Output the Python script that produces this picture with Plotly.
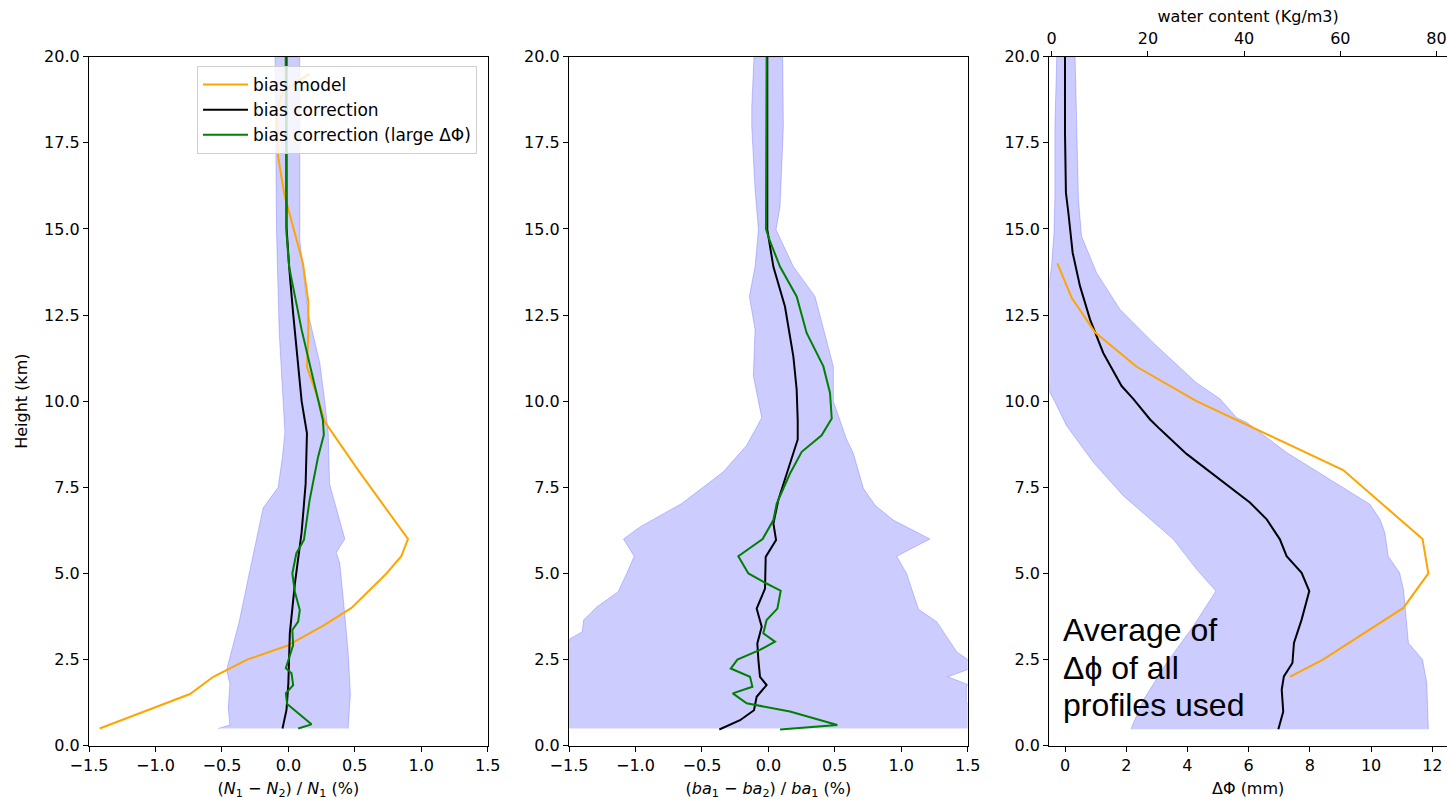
import plotly.graph_objects as go

# ---------------- Panel 1 : (N1-N2)/N1 (%) ----------------
p1_model_x = [-1.42, -0.74, -0.565, -0.31, -0.01, 0.27, 0.475, 0.738, 0.85, 0.90, 0.525, 0.274, 0.23, 0.14, 0.15, 0.15, 0.11, 0.04, -0.03, -0.077, -0.089, -0.04, 0.036, 0.16]
p1_model_y = [0.5, 1.5, 2.0, 2.5, 2.9, 3.5, 4.0, 5.0, 5.5, 6.0, 8.0, 9.4, 10.0, 11.0, 12.0, 12.9, 14.0, 15.0, 16.0, 17.1, 18.4, 19.0, 19.2, 19.5]

p1_corr_x = [-0.044, -0.014, 0.0, 0.011, 0.049, 0.10, 0.13, 0.14, 0.117, 0.10, 0.036, 0.006, -0.014, -0.014]
p1_corr_y = [0.5, 1.04, 1.8, 3.26, 4.7, 6.2, 7.6, 9.07, 9.6, 10.0, 12.55, 13.9, 15.07, 20.0]

p1_large_x = [0.074, 0.174, -0.009, -0.019, 0.036, 0.024, -0.019, 0.0, 0.036, 0.03, 0.074, 0.086, 0.049, 0.03, 0.06, 0.117, 0.16, 0.224, 0.267, 0.26, 0.186, 0.10, 0.006, -0.014, -0.02]
p1_large_y = [0.5, 0.62, 1.21, 1.52, 1.76, 2.1, 2.25, 2.49, 2.92, 3.36, 3.6, 3.94, 4.47, 5.0, 5.58, 5.97, 7.13, 8.39, 9.02, 9.45, 10.7, 12.07, 13.9, 14.88, 20.0]

p1_band_lo_x = [-0.528, -0.44, -0.452, -0.44, -0.465, -0.37, -0.30, -0.239, -0.19, -0.077, -0.044, -0.026, -0.039, -0.069, -0.089, -0.10]
p1_band_lo_y = [0.5, 0.6, 1.1, 1.8, 2.2, 3.6, 4.9, 6.0, 6.9, 7.5, 8.4, 9.1, 10.0, 12.0, 14.9, 20.0]
p1_band_hi_x = [0.45, 0.467, 0.45, 0.425, 0.387, 0.36, 0.425, 0.387, 0.31, 0.30, 0.274, 0.237, 0.149, 0.086, 0.086, 0.086]
p1_band_hi_y = [0.5, 1.5, 2.7, 3.8, 5.3, 5.6, 6.0, 6.5, 7.6, 9.1, 10.0, 11.1, 12.55, 14.7, 17.6, 20.0]

# ---------------- Panel 2 : (ba1-ba2)/ba1 (%) ----------------
p2_corr_x = [-0.369, -0.213, -0.108, -0.088, -0.013, -0.063, -0.075, -0.083, -0.05, -0.088, -0.025, -0.02, 0.058, 0.038, 0.075, 0.125, 0.183, 0.221, 0.221, 0.213, 0.188, 0.125, 0.038, 0.0, -0.008, -0.008]
p2_corr_y = [0.47, 0.74, 1.03, 1.42, 1.76, 2.0, 2.49, 2.97, 3.45, 3.98, 4.56, 5.48, 5.97, 6.45, 7.13, 7.71, 8.38, 8.89, 9.45, 10.34, 11.3, 12.75, 13.9, 14.7, 14.98, 20.0]

p2_large_x = [0.088, 0.519, 0.163, -0.163, -0.268, -0.12, -0.138, -0.283, -0.233, -0.063, 0.05, -0.038, -0.013, 0.068, 0.093, -0.025, -0.15, -0.226, -0.043, 0.038, 0.063, 0.163, 0.251, 0.401, 0.477, 0.464, 0.414, 0.288, 0.213, 0.088, 0.008, -0.018, -0.013]
p2_large_y = [0.47, 0.6, 0.99, 1.23, 1.52, 1.71, 2.0, 2.24, 2.5, 2.78, 3.02, 3.26, 3.65, 3.98, 4.5, 4.73, 5.0, 5.5, 6.0, 6.55, 7.03, 7.9, 8.53, 9.01, 9.5, 10.24, 11.01, 11.98, 13.04, 13.9, 14.69, 15.0, 20.0]

p2_band_lo_x = [-1.7, -1.6, -1.52, -1.49, -1.40, -1.39, -1.29, -1.13, -1.066, -1.01, -1.09, -0.966, -0.652, -0.339, -0.163, -0.063, -0.05, -0.113, -0.10, -0.143, -0.10, -0.075, -0.10, -0.125, -0.125, -0.108]
p2_band_lo_y = [0.5, 2.0, 2.9, 3.11, 3.31, 3.65, 4.03, 4.47, 5.0, 5.5, 6.0, 6.35, 7.03, 7.95, 8.72, 9.45, 9.52, 10.73, 12.08, 13.04, 13.91, 14.98, 16.14, 17.97, 18.55, 20.0]
p2_band_hi_x = [1.56, 1.53, 1.49, 1.49, 1.50, 1.35, 1.53, 1.50, 1.417, 1.267, 1.13, 1.04, 0.966, 1.216, 0.94, 0.803, 0.715, 0.64, 0.589, 0.489, 0.489, 0.351, 0.188, 0.058, 0.088, 0.113, 0.108]
p2_band_hi_y = [0.5, 1.1, 1.25, 1.7, 1.78, 2.0, 2.25, 2.5, 2.73, 3.6, 3.96, 5.0, 5.5, 6.0, 6.55, 6.98, 7.47, 8.48, 8.89, 10.0, 11.01, 13.04, 13.91, 14.98, 15.65, 17.97, 20.0]

# ---------------- Panel 3 : delta Phi (mm) & water content ----------------
p3_dphi_x = [6.97, 7.13, 7.08, 7.15, 7.43, 7.48, 7.73, 7.98, 7.73, 7.24, 7.02, 6.59, 6.04, 5.06, 3.97, 3.10, 2.78, 2.23, 1.85, 1.25, 0.82, 0.49, 0.25, 0.11, 0.03, 0.0, 0.0]
p3_dphi_y = [0.48, 0.99, 1.62, 2.01, 2.4, 2.98, 3.66, 4.49, 5.02, 5.5, 5.99, 6.57, 7.06, 7.74, 8.47, 9.19, 9.47, 10.07, 10.44, 11.4, 12.37, 13.34, 14.31, 15.47, 16.05, 17.79, 20.0]

p3_band_lo_x = [2.15, 2.56, 3.32, 4.19, 4.93, 4.30, 3.54, 3.10, 1.91, 0.93, 0.05, -0.38, -0.49, -0.6, -0.65, -0.55, -0.44, -0.36, -0.33, -0.33, -0.27]
p3_band_lo_y = [0.48, 1.33, 2.4, 3.47, 4.49, 5.12, 5.99, 6.33, 7.25, 8.22, 9.29, 10.07, 10.24, 11.0, 12.0, 13.2, 13.92, 14.89, 15.95, 17.99, 20.0]
p3_band_hi_x = [11.87, 11.82, 11.68, 11.22, 11.06, 10.93, 10.56, 10.45, 10.29, 9.96, 8.66, 7.24, 5.93, 5.61, 5.06, 4.30, 2.89, 1.80, 1.03, 0.54, 0.44, 0.38, 0.33]
p3_band_hi_y = [0.48, 1.82, 2.5, 2.98, 4.53, 5.02, 5.5, 6.18, 6.57, 7.01, 7.74, 8.51, 9.39, 9.52, 10.07, 10.53, 11.69, 12.66, 13.73, 14.79, 15.86, 17.79, 20.0]

p3_water_x = [49.5, 56.4, 73.1, 78.3, 77.1, 60.6, 30.1, 17.66, 9.0, 4.16, 1.18]
p3_water_y = [2.0, 2.5, 4.0, 5.0, 6.0, 8.0, 10.0, 11.0, 12.0, 13.0, 14.0]

# tick labels
pct_tickvals = [-1.5, -1.0, -0.5, 0.0, 0.5, 1.0, 1.5]
pct_ticktext = ["\u22121.5", "\u22121.0", "\u22120.5", "0.0", "0.5", "1.0", "1.5"]
h_tickvals = [0, 2.5, 5, 7.5, 10, 12.5, 15, 17.5, 20]
h_ticktext = ["0.0", "2.5", "5.0", "7.5", "10.0", "12.5", "15.0", "17.5", "20.0"]
dphi_tickvals = [0, 2, 4, 6, 8, 10, 12]
wc_tickvals = [0, 20, 40, 60, 80]

ORANGE = "#ffa500"
GREEN = "#008000"
BAND = "rgba(0,0,255,0.2)"
FONT = "DejaVu Sans"

W, H = 1447, 802


def band(lo_x, lo_y, hi_x, hi_y):
    return lo_x + hi_x[::-1], lo_y + hi_y[::-1]


fig = go.Figure()

# Panel 1
bx, by = band(p1_band_lo_x, p1_band_lo_y, p1_band_hi_x, p1_band_hi_y)
fig.add_trace(go.Scatter(x=bx, y=by, fill="toself", fillcolor=BAND, mode="lines",
                         line=dict(color=BAND, width=1), showlegend=False, hoverinfo="skip",
                         xaxis="x", yaxis="y"))
fig.add_trace(go.Scatter(x=p1_model_x, y=p1_model_y, mode="lines", line=dict(color=ORANGE, width=2),
                         name="bias model", xaxis="x", yaxis="y"))
fig.add_trace(go.Scatter(x=p1_corr_x, y=p1_corr_y, mode="lines", line=dict(color="black", width=2),
                         name="bias correction", xaxis="x", yaxis="y"))
fig.add_trace(go.Scatter(x=p1_large_x, y=p1_large_y, mode="lines", line=dict(color=GREEN, width=2),
                         name="bias correction (large \u0394\u03a6)", xaxis="x", yaxis="y"))

# Panel 2
bx, by = band(p2_band_lo_x, p2_band_lo_y, p2_band_hi_x, p2_band_hi_y)
fig.add_trace(go.Scatter(x=bx, y=by, fill="toself", fillcolor=BAND, mode="lines",
                         line=dict(color=BAND, width=1), showlegend=False, hoverinfo="skip",
                         xaxis="x2", yaxis="y2"))
fig.add_trace(go.Scatter(x=p2_corr_x, y=p2_corr_y, mode="lines", line=dict(color="black", width=2),
                         showlegend=False, xaxis="x2", yaxis="y2"))
fig.add_trace(go.Scatter(x=p2_large_x, y=p2_large_y, mode="lines", line=dict(color=GREEN, width=2),
                         showlegend=False, xaxis="x2", yaxis="y2"))

# Panel 3
bx, by = band(p3_band_lo_x, p3_band_lo_y, p3_band_hi_x, p3_band_hi_y)
fig.add_trace(go.Scatter(x=bx, y=by, fill="toself", fillcolor=BAND, mode="lines",
                         line=dict(color=BAND, width=1), showlegend=False, hoverinfo="skip",
                         xaxis="x3", yaxis="y3"))
fig.add_trace(go.Scatter(x=p3_dphi_x, y=p3_dphi_y, mode="lines", line=dict(color="black", width=2),
                         showlegend=False, xaxis="x3", yaxis="y3"))
fig.add_trace(go.Scatter(x=p3_water_x, y=p3_water_y, mode="lines", line=dict(color=ORANGE, width=2),
                         showlegend=False, xaxis="x4", yaxis="y3"))

ydom = [1 - 745.7 / H, 1 - 56.7 / H]
common_axis = dict(showline=True, linecolor="black", linewidth=1.2, mirror=True,
                   ticks="outside", ticklen=5, tickwidth=1.2, tickcolor="black",
                   showgrid=False, zeroline=False, automargin=False,
                   tickfont=dict(family=FONT, size=16, color="black"))

def xax(domain, rng, tickvals, ticktext, title, anchor):
    d = dict(common_axis)
    d.update(domain=domain, range=rng, tickvals=tickvals, ticktext=ticktext, anchor=anchor,
             title=dict(text=title, font=dict(family=FONT, size=16, color="black"), standoff=8))
    return d

def yax(anchor, title=None):
    d = dict(common_axis)
    d.update(domain=ydom, range=[0, 20], tickvals=h_tickvals, ticktext=h_ticktext, anchor=anchor)
    if title:
        d["title"] = dict(text=title, font=dict(family=FONT, size=16, color="black"), standoff=12)
    return d

x3_lo = (1049.3 - 1065) / 30.61
x3_hi = (1447 - 1065) / 30.61
x4_lo = (1049.3 - 1051.7) / 4.81
x4_hi = (1447 - 1051.7) / 4.81

fig.update_layout(
    width=W, height=H,
    margin=dict(l=0, r=0, t=0, b=0),
    paper_bgcolor="white", plot_bgcolor="white",
    font=dict(family=FONT, size=16, color="black"),
    xaxis=xax([89 / W, 487.7 / W], [-1.5, 1.5], pct_tickvals, pct_ticktext,
              "(<i>N</i><sub>1</sub> \u2212 <i>N</i><sub>2</sub>) / <i>N</i><sub>1</sub> (%)", "y"),
    yaxis=yax("x", "Height (km)"),
    xaxis2=xax([569 / W, 967.7 / W], [-1.5, 1.5], pct_tickvals, pct_ticktext,
               "(<i>ba</i><sub>1</sub> \u2212 <i>ba</i><sub>2</sub>) / <i>ba</i><sub>1</sub> (%)", "y2"),
    yaxis2=yax("x2"),
    xaxis3=xax([1049.3 / W, 1.0], [x3_lo, x3_hi], dphi_tickvals, [str(v) for v in dphi_tickvals],
               "\u0394\u03a6 (mm)", "y3"),
    yaxis3=yax("x3"),
    xaxis4=dict(overlaying="x3", side="top", anchor="y3", range=[x4_lo, x4_hi],
                tickvals=wc_tickvals, ticktext=[str(v) for v in wc_tickvals],
                ticks="outside", ticklen=5, tickwidth=1.2, tickcolor="black",
                showline=True, linecolor="black", linewidth=1.2,
                showgrid=False, zeroline=False, automargin=False,
                tickfont=dict(family=FONT, size=16, color="black"),
                title=dict(text="water content (Kg/m3)", font=dict(family=FONT, size=16, color="black"), standoff=2)),
    legend=dict(x=197 / W, y=1 - 66 / H, xanchor="left", yanchor="top",
                bgcolor="rgba(255,255,255,0.8)", bordercolor="#d0d0d0", borderwidth=1,
                font=dict(family=FONT, size=17, color="black"), tracegroupgap=0, itemwidth=45),
    showlegend=True,
)

for txt, ypx in [("Average of", 630), ("\u0394\u03d5 of all", 668), ("profiles used", 705)]:
    fig.add_annotation(text=txt, xref="paper", yref="paper", x=1061 / W, y=1 - ypx / H,
                       xanchor="left", yanchor="middle", showarrow=False,
                       font=dict(family="Liberation Sans", size=32, color="black"))

fig.write_html("out.html", config={"displayModeBar": False},
               post_script="document.body.style.margin='0px';document.body.style.overflow='hidden';")
